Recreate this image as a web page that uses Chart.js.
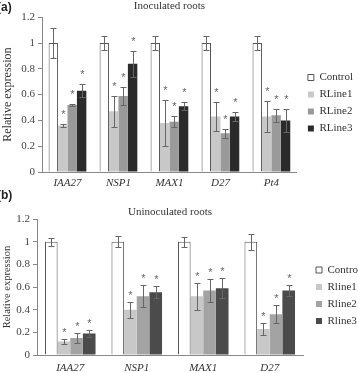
<!DOCTYPE html>
<html>
<head>
<meta charset="utf-8">
<script src="https://cdn.jsdelivr.net/npm/chart.js@4/dist/chart.umd.min.js"></script>
<style>
  html, body { margin: 0; padding: 0; background: #fff; }
  #wrap { position: relative; width: 358px; height: 373px; overflow: hidden; }
  .panel { position: absolute; left: 0; width: 358px; }
  #panelA { top: 0; height: 186px; }
  #panelB { top: 186px; height: 187px; }
  .tag { position: absolute; left: -3px; font: bold 12px "Liberation Sans", Arial, sans-serif; color: #222; }
</style>
</head>
<body>
<div id="wrap">
  <div class="panel" id="panelA"><canvas id="chartA"></canvas></div>
  <div class="panel" id="panelB"><canvas id="chartB"></canvas></div>
  <div class="tag" style="top:0px">(a)</div>
  <div class="tag" style="top:188px">(b)</div>
</div>
<script>
// --- painel (a): Inoculated roots
const genesA = ['IAA27', 'NSP1', 'MAX1', 'D27', 'Pt4'];
const seriesA = ['Control', 'RLine1', 'RLine2', 'RLine3'];
const controlA = [1, 1, 1, 1, 1];
const controlErrA = [0.12, 0.055, 0.055, 0.055, 0.055];
const line1A = [0.36, 0.47, 0.38, 0.43, 0.43];
const line1ErrA = [0.015, 0.12, 0.18, 0.11, 0.12];
const line2A = [0.52, 0.59, 0.39, 0.30, 0.44];
const line2ErrA = [0.008, 0.07, 0.045, 0.035, 0.05];
const line3A = [0.63, 0.84, 0.51, 0.43, 0.40];
const line3ErrA = [0.05, 0.10, 0.03, 0.035, 0.09];

// --- painel (b): Uninoculated roots
const genesB = ['IAA27', 'NSP1', 'MAX1', 'D27'];
const seriesB = ['Control', 'Rline1', 'Rline2', 'Rline3'];
const controlB = [1, 1, 1, 1];
const controlErrB = [0.033, 0.05, 0.045, 0.07];
const line1B = [0.12, 0.40, 0.52, 0.23];
const line1ErrB = [0.025, 0.07, 0.12, 0.05];
const line2B = [0.15, 0.52, 0.57, 0.36];
const line2ErrB = [0.04, 0.10, 0.10, 0.08];
const line3B = [0.19, 0.555, 0.59, 0.57];
const line3ErrB = [0.03, 0.055, 0.09, 0.05];

const yTicks = { min: 0, max: 1.2, step: 0.2 };

const serif = '"Liberation Serif", "Times New Roman", serif';

// barras de erro + asteriscos
const errorBars = {
  id: 'errorBars',
  afterDatasetsDraw(chart, args, opts) {
    const ctx = chart.ctx;
    const y = chart.scales.y;
    ctx.save();
    ctx.strokeStyle = opts.color;
    ctx.fillStyle = opts.color;
    ctx.lineWidth = 1;
    chart.data.datasets.forEach((ds, i) => {
      const meta = chart.getDatasetMeta(i);
      meta.data.forEach((bar, j) => {
        const v = ds.data[j];
        const e = ds.errors[j];
        const yTop = Math.round(y.getPixelForValue(v + e)) + 0.5;
        const yBot = Math.round(y.getPixelForValue(v - e)) + 0.5;
        const x = Math.round(bar.x) + 0.5;
        const cap = opts.cap;
        ctx.beginPath();
        ctx.moveTo(x, yTop); ctx.lineTo(x, yBot);
        ctx.moveTo(x - cap, yTop); ctx.lineTo(x + cap, yTop);
        ctx.moveTo(x - cap, yBot); ctx.lineTo(x + cap, yBot);
        ctx.stroke();
        if (ds.stars) {
          ctx.font = '11px "Liberation Sans", Arial, sans-serif';
          ctx.textAlign = 'center';
          ctx.textBaseline = 'alphabetic';
          ctx.fillText('*', x, yTop - opts.starGap);
        }
      });
    });
    ctx.restore();
  }
};

// desloca a legenda para a posição do original
const legendShift = {
  id: 'legendShift',
  afterLayout(chart, args, opts) {
    const lg = chart.legend;
    if (!lg) return;
    lg.left += opts.dx; lg.right += opts.dx;
    lg.top += opts.dy; lg.bottom += opts.dy;
  }
};

function makeChart(id, p) {
  const ctx = document.getElementById(id).getContext('2d');
  return new Chart(ctx, {
    type: 'bar',
    data: {
      labels: p.labels,
      datasets: [
        { label: p.series[0], data: p.data[0], errors: p.errs[0], stars: false,
          backgroundColor: '#ffffff', borderColor: '#555555', borderWidth: 1 },
        { label: p.series[1], data: p.data[1], errors: p.errs[1], stars: true,
          backgroundColor: p.colors[0], borderWidth: 0 },
        { label: p.series[2], data: p.data[2], errors: p.errs[2], stars: true,
          backgroundColor: p.colors[1], borderWidth: 0 },
        { label: p.series[3], data: p.data[3], errors: p.errs[3], stars: true,
          backgroundColor: p.colors[2], borderWidth: 0 }
      ]
    },
    options: {
      responsive: true,
      maintainAspectRatio: false,
      animation: false,
      layout: { padding: 0 },
      datasets: { bar: { categoryPercentage: p.catPct, barPercentage: 1 } },
      plugins: {
        title: {
          display: true, text: p.title, fullSize: false, color: '#333',
          font: { family: serif, size: 11, weight: 'normal' },
          padding: p.titlePad
        },
        legend: {
          position: 'right', maxWidth: p.legendWidth,
          labels: { boxWidth: 6, boxHeight: 6, padding: 6, color: '#333',
                    font: { family: serif, size: 11 } }
        },
        tooltip: { enabled: false },
        errorBars: { color: '#666', cap: 3, starGap: p.starGap },
        legendShift: p.legendShift
      },
      scales: {
        x: {
          afterFit(scale) { scale.height = p.xHeight; },
          grid: { display: false, drawTicks: false },
          border: { display: true, color: '#888' },
          ticks: { color: '#333', padding: p.xPad,
                   font: { family: serif, size: 11, style: 'italic' } }
        },
        y: {
          min: yTicks.min, max: yTicks.max,
          afterFit(scale) { scale.width = p.yWidth; },
          grid: { display: true, drawOnChartArea: false, drawTicks: true, tickLength: 4, color: '#888' },
          border: { display: true, color: '#888' },
          ticks: { stepSize: yTicks.step, color: '#444', padding: 3,
                   font: { family: serif, size: 11 },
                   callback: (v) => String(Math.round(v * 10) / 10) },
          title: { display: true, text: 'Relative expression', color: '#333',
                   padding: { top: 1, bottom: 0 },
                   font: { family: serif, size: p.yTitleSize } }
        }
      }
    },
    plugins: [errorBars, legendShift]
  });
}

makeChart('chartA', {
  labels: genesA, series: seriesA,
  data: [controlA, line1A, line2A, line3A],
  errs: [controlErrA, line1ErrA, line2ErrA, line3ErrA],
  colors: ['#c8c8c8', '#9a9a9a', '#2b2b2b'],
  title: 'Inoculated roots', titlePad: { top: 0, bottom: 4 },
  catPct: 0.74, yWidth: 42, xHeight: 14, xPad: 5, legendWidth: 65,
  yTitleSize: 12, starGap: 7, legendShift: { dx: 5, dy: 10 }
});

makeChart('chartB', {
  labels: genesB, series: seriesB,
  data: [controlB, line1B, line2B, line3B],
  errs: [controlErrB, line1ErrB, line2ErrB, line3ErrB],
  colors: ['#c8c8c8', '#a3a3a3', '#4b4b4b'],
  title: 'Uninoculated roots', titlePad: { top: 20, bottom: 0 },
  catPct: 0.76, yWidth: 37, xHeight: 18, xPad: 7, legendWidth: 55,
  yTitleSize: 10.5, starGap: 4, legendShift: { dx: 7, dy: 16 }
});
</script>
</body>
</html>
